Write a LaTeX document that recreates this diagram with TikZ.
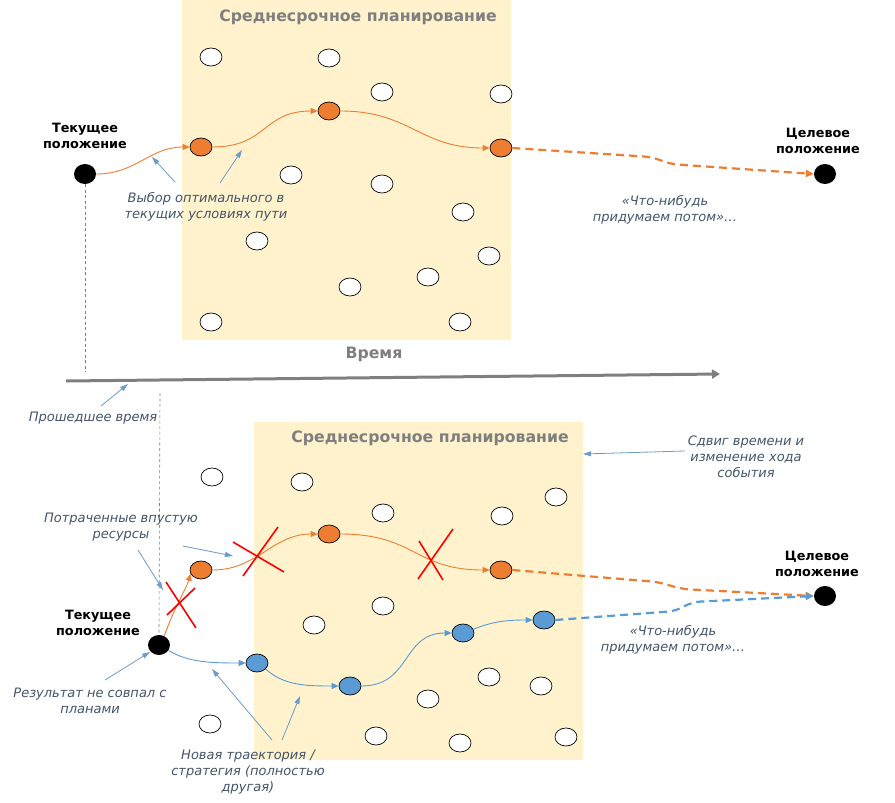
\documentclass[tikz,border=0pt]{standalone}
\usepackage{fontspec}
\setmainfont{DejaVu Sans}
\usetikzlibrary{arrows.meta,shapes.geometric}

\definecolor{plan}{RGB}{255,242,204}
\definecolor{orng}{RGB}{237,125,49}
\definecolor{blu}{RGB}{91,155,213}
\definecolor{note}{RGB}{68,84,106}
\definecolor{gry}{RGB}{127,127,127}
\definecolor{arr}{RGB}{108,155,205}

\tikzset{
  dot/.style={ellipse,draw,line width=0.7pt,fill=white,minimum width=22pt,minimum height=18pt,inner sep=0pt},
  onode/.style={dot,fill=orng},
  bnode/.style={dot,fill=blu},
  place/.style={ellipse,fill=black,minimum width=22pt,minimum height=20pt,inner sep=0pt},
  ttl/.style={font=\fontsize{15.7}{18}\selectfont\bfseries,text=gry},
  lbl/.style={font=\fontsize{12.8}{15.5}\selectfont\bfseries,align=center},
  txt/.style={font=\fontsize{13}{16}\selectfont\itshape,text=note,align=center},
  opath/.style={draw=orng,line width=0.9pt,-{Triangle[length=7pt,width=6pt]}},
  bpath/.style={draw=blu,line width=0.9pt,-{Triangle[length=7pt,width=6pt]}},
  later/.style={line width=2.2pt,dash pattern=on 8pt off 5pt,rounded corners=8pt,-{Triangle[length=8pt,width=7pt]}},
  pointer/.style={draw=arr,line width=0.8pt,-{Triangle[length=8pt,width=5pt]}},
  cross/.style={draw=red,line width=1.6pt},
  past/.style={draw=gry,line width=0.6pt,dash pattern=on 3pt off 2.5pt}
}

\begin{document}
\begin{tikzpicture}[x=1pt,y=-1pt]
    \useasboundingbox (0,0) rectangle (895,803);
    %% planning areas
    \fill[plan] (182,0) rectangle (511,340);
    \fill[plan] (254,422) rectangle (583,760);
    \node[ttl] (10) at (358,17) {Среднесрочное планирование};
    \node[ttl] (30) at (430,438) {Среднесрочное планирование};
    %% other options
    \foreach \x/\y [count=\i] in {211/57,329/58,382/92,501/94,291/175,382/184,463/212,
        257/241,489/256,428/277,350/287,211/322,460/322}
      \node[dot] (w\i) at (\x,\y) {};
    \foreach \x/\y [count=\i] in {212/477,302/482,383/513,502/516,556/497,383/606,314/625,
        489/677,541/686,428/699,210/724,376/736,460/743,566/737}
      \node[dot] (v\i) at (\x,\y) {};
    %% first plan
    \node[place] (1) at (85,174) {};
    \node[onode] (2) at (201,147) {};
    \node[onode] (3) at (329,111) {};
    \node[onode] (4) at (501,148) {};
    \node[place] (5) at (825,174) {};
    \node[lbl] (6) at (85,136) {Текущее\\положение};
    \node[lbl] (7) at (818,141) {Целевое\\положение};
    \draw[opath] (1.east) .. controls +(40,0) and +(-40,0) .. (2.west);
    \draw[opath] (2.east) .. controls +(55,0) and +(-55,0) .. (3.west);
    \draw[opath] (3.east) .. controls +(70,0) and +(-70,0) .. (4.west);
    \draw[later,orng] (4.east) -- (652,157) -- (670,164) -- (5.west);
    \node[txt] (8) at (206,207) {Выбор оптимального в\\текущих условиях пути};
    \node[txt] (9) at (665,210) {«Что-нибудь\\придумаем потом»…};
    \coordinate (a1) at (175,182);
    \coordinate (a2) at (152,157);
    \coordinate (b1) at (220,183);
    \coordinate (b2) at (242,150);
    \draw[pointer] (a1) -- (a2);
    \draw[pointer] (b1) -- (b2);
    %% time axis
    \coordinate (t0) at (66,381);
    \coordinate (t1) at (720,374);
    \draw[gry,line width=3pt,-{Triangle[length=8pt,width=9pt]}] (t0) -- (t1);
    \node[ttl] (20) at (374,354) {Время};
    \coordinate (p0) at (85,372);
    \coordinate (p1) at (160,393);
    \draw[past] (1.south) -- (p0);
    \node[txt] (21) at (93,418) {Прошедшее время};
    \coordinate (c1) at (101,406);
    \coordinate (c2) at (128,384);
    \draw[pointer] (c1) -- (c2);
    %% second plan
    \node[place] (11) at (159,645) {};
    \node[onode] (12) at (201,570) {};
    \node[onode] (13) at (329,534) {};
    \node[onode] (14) at (501,570) {};
    \node[bnode] (15) at (257,663) {};
    \node[bnode] (16) at (350,686) {};
    \node[bnode] (17) at (463,633) {};
    \node[bnode] (18) at (544,620) {};
    \node[place] (19) at (825,596) {};
    \node[lbl] (22) at (98,623) {Текущее\\положение};
    \node[lbl] (23) at (817,564) {Целевое\\положение};
    \draw[past] (p1) -- (11.north);
    \draw[opath] (11.60) .. controls +(10,-28) and +(-4,14) .. (12.200);
    \draw[opath] (12.east) .. controls +(45,0) and +(-45,0) .. (13.west);
    \draw[opath] (13.east) .. controls +(75,0) and +(-75,0) .. (14.west);
    \draw[later,orng] (14.east) -- (658,582) -- (682,589) -- (19.west);
    \draw[bpath] (11.-30) .. controls +(20,12) and +(-35,0) .. (15.west);
    \draw[bpath] (15.-35) .. controls +(18,16) and +(-35,0) .. (16.west);
    \draw[bpath] (16.east) .. controls +(50,0) and +(-50,0) .. (17.west);
    \draw[bpath] (17.20) .. controls +(20,-8) and +(-25,0) .. (18.west);
    \draw[later,blu] (18.east) -- (676,611) -- (692,602) -- (19.west);
    %% lost resources
    \draw[cross] (166,582) -- (196,628);
    \draw[cross] (167,615) -- (195,588);
    \draw[cross] (233,542) -- (284,572);
    \draw[cross] (243,576) -- (278,527);
    \draw[cross] (419,541) -- (443,580);
    \draw[cross] (418,579) -- (453,529);
    %% notes
    \node[txt] (24) at (746,457) {Сдвиг времени и\\изменение хода\\события};
    \node[txt] (25) at (121,527) {Потраченные впустую\\ресурсы};
    \node[txt] (26) at (673,640) {«Что-нибудь\\придумаем потом»…};
    \node[txt] (27) at (90,701) {Результат не совпал с\\планами};
    \node[txt] (28) at (248,772) {Новая траектория /\\стратегия (полностью\\другая)};
    \coordinate (d1) at (685,451);
    \coordinate (d2) at (583,454);
    \coordinate (e1) at (138,550);
    \coordinate (e2) at (163,590);
    \coordinate (f1) at (183,546);
    \coordinate (f2) at (233,556);
    \coordinate (g1) at (105,680);
    \coordinate (g2) at (150,652);
    \coordinate (h1) at (272,740);
    \coordinate (h2) at (212,669);
    \coordinate (i1) at (282,740);
    \coordinate (i2) at (300,696);
    \draw[pointer] (d1) -- (d2);
    \draw[pointer] (e1) -- (e2);
    \draw[pointer] (f1) -- (f2);
    \draw[pointer] (g1) -- (g2);
    \draw[pointer] (h1) -- (h2);
    \draw[pointer] (i1) -- (i2);
\end{tikzpicture}
\end{document}
